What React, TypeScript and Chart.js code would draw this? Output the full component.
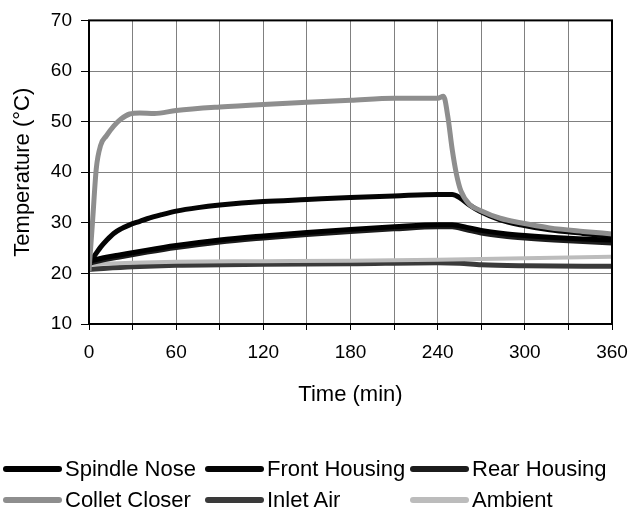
import React, { useEffect, useRef } from 'react';
import { Chart, registerables } from 'chart.js';

Chart.register(...registerables);

// ---- Data (time in minutes, temperature in °C) ----
const seriesNames = ['Spindle Nose', 'Front Housing', 'Rear Housing', 'Collet Closer', 'Inlet Air', 'Ambient'];
const seriesColors = ['#000000', '#050505', '#1c1c1c', '#8e8e8e', '#3a3a3a', '#bcbcbc'];

const spindleTime = [0, 10, 20, 40, 60, 90, 120, 150, 180, 210, 240, 250, 260, 270, 285, 300, 320, 340, 360];
const spindleTemp = [22.4, 23.1, 23.6, 24.6, 25.5, 26.6, 27.4, 28.1, 28.7, 29.2, 29.6, 29.6, 29.1, 28.5, 27.9, 27.5, 27.1, 26.8, 26.6];

const frontTime = [0, 4, 8, 12, 17, 22, 28, 35, 40, 50, 60, 75, 90, 120, 150, 180, 210, 240, 250, 255, 262, 269, 283, 297, 317, 340, 360];
const frontTemp = [22.2, 23.6, 25.2, 26.5, 27.9, 28.8, 29.6, 30.3, 30.8, 31.6, 32.3, 33.0, 33.5, 34.2, 34.6, 35.0, 35.3, 35.6, 35.6, 35.0, 33.5, 32.3, 30.6, 29.6, 28.6, 27.9, 27.3];

const rearTime = [0, 10, 20, 40, 60, 90, 120, 150, 180, 210, 240, 250, 260, 270, 285, 300, 320, 340, 360];
const rearTemp = [22.0, 22.7, 23.2, 24.2, 25.1, 26.2, 27.0, 27.7, 28.3, 28.8, 29.2, 29.2, 28.6, 28.0, 27.4, 27.0, 26.6, 26.3, 26.0];

const colletTime = [0, 2.5, 5, 8, 12, 17, 22, 28, 35, 45, 60, 90, 120, 150, 180, 210, 240, 244, 247, 250, 253, 256, 262, 269, 283, 297, 317, 340, 360];
const colletTemp = [20.5, 30.5, 40.7, 45.3, 47.2, 49.1, 50.5, 51.5, 51.7, 51.6, 52.2, 52.9, 53.4, 53.8, 54.2, 54.6, 54.6, 55.0, 51.0, 44.5, 39.5, 36.3, 33.6, 32.5, 30.9, 30.0, 29.0, 28.3, 27.8];

const inletTime = [0, 30, 60, 120, 180, 240, 255, 270, 300, 360];
const inletTemp = [20.8, 21.3, 21.6, 21.8, 21.9, 22.1, 22.0, 21.7, 21.5, 21.4];

const ambientTime = [0, 30, 60, 120, 180, 240, 300, 360];
const ambientTemp = [21.8, 22.1, 22.3, 22.4, 22.5, 22.7, 23.0, 23.3];

const xTickValues = [0, 60, 120, 180, 240, 300, 360];
const yTickValues = [10, 20, 30, 40, 50, 60, 70];

const seriesTimes = [spindleTime, frontTime, rearTime, colletTime, inletTime, ambientTime];
const seriesTemps = [spindleTemp, frontTemp, rearTemp, colletTemp, inletTemp, ambientTemp];
const seriesWidths = [5, 5, 5, 5, 5, 4];
const seriesOrder = [1, 1, 1, 0, 2, 1];

const FONT = '"Liberation Sans", Arial, Helvetica, sans-serif';

const frameBorder = {
  id: 'frameBorder',
  afterDatasetsDraw(chart: any) {
    const { ctx, chartArea } = chart;
    ctx.save();
    ctx.strokeStyle = '#000';
    ctx.lineWidth = 2;
    ctx.strokeRect(chartArea.left, chartArea.top, chartArea.right - chartArea.left, chartArea.bottom - chartArea.top);
    ctx.restore();
  },
};

const legendPos = [
  { x: 3, y: 469 },
  { x: 205, y: 469 },
  { x: 410, y: 469 },
  { x: 3, y: 500 },
  { x: 205, y: 500 },
  { x: 410, y: 500 },
];

export default function App() {
  const ref = useRef<HTMLCanvasElement | null>(null);

  useEffect(() => {
    if (!ref.current) return;
    const datasets = seriesNames.map((name, i) => ({
      label: name,
      data: seriesTimes[i].map((t, j) => ({ x: t, y: seriesTemps[i][j] })),
      borderColor: seriesColors[i],
      backgroundColor: seriesColors[i],
      borderWidth: seriesWidths[i],
      pointRadius: 0,
      fill: false,
      cubicInterpolationMode: 'monotone' as const,
      order: seriesOrder[i],
    }));

    const chart = new Chart(ref.current, {
      type: 'line',
      data: { datasets },
      plugins: [frameBorder],
      options: {
        animation: false,
        responsive: false,
        devicePixelRatio: 1,
        layout: { padding: { left: 0, top: 15, right: 29, bottom: 110 } },
        plugins: {
          legend: { display: false },
          tooltip: { enabled: false },
        },
        scales: {
          x: {
            type: 'linear',
            min: 0,
            max: 360,
            border: { display: false },
            grid: { color: '#808080', lineWidth: 1, tickLength: 6, tickColor: '#000' },
            ticks: {
              stepSize: 30,
              color: '#000',
              padding: 11,
              maxRotation: 0,
              font: { family: FONT, size: 19 },
              callback: (v: any) => (xTickValues.includes(Number(v)) ? String(v) : ''),
            },
            title: {
              display: true,
              text: 'Time (min)',
              color: '#000',
              font: { family: FONT, size: 22 },
              padding: { top: 0, bottom: 0 },
            },
            afterFit: (s: any) => { s.height = 84; },
          },
          y: {
            type: 'linear',
            min: 10,
            max: 70,
            border: { display: false },
            grid: { color: '#808080', lineWidth: 1, tickLength: 8, tickColor: '#000' },
            ticks: {
              stepSize: 10,
              color: '#000',
              padding: 9,
              font: { family: FONT, size: 19 },
              callback: (v: any) => (yTickValues.includes(Number(v)) ? String(v) : ''),
            },
            title: {
              display: true,
              text: 'Temperature (°C)',
              color: '#000',
              font: { family: FONT, size: 22 },
              padding: { top: 10, bottom: 0 },
            },
            afterFit: (s: any) => { s.width = 89; },
          },
        },
      },
    });
    return () => chart.destroy();
  }, []);

  return (
    <div style={{ position: 'absolute', left: 0, top: 0, width: 641, height: 518, background: '#fff' }}>
      <canvas ref={ref} width={641} height={518} style={{ display: 'block', width: 641, height: 518 }} />
      {seriesNames.map((name, i) => (
        <div
          key={name}
          style={{
            position: 'absolute',
            left: legendPos[i].x,
            top: legendPos[i].y - 13,
            height: 26,
            display: 'flex',
            alignItems: 'center',
            fontFamily: FONT,
            fontSize: 22,
            color: '#000',
            whiteSpace: 'nowrap',
          }}
        >
          <span
            style={{
              display: 'inline-block',
              width: 59,
              height: 6,
              borderRadius: 3,
              background: seriesColors[i],
              marginRight: 3,
            }}
          />
          <span>{name}</span>
        </div>
      ))}
    </div>
  );
}
